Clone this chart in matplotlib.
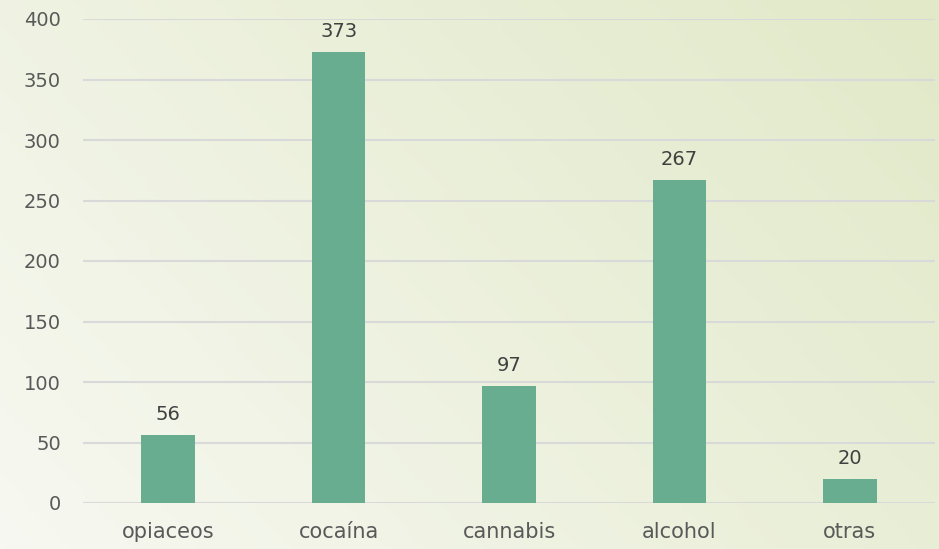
import matplotlib.pyplot as plt
import numpy as np

# datos
categorias = ["opiaceos", "cocaína", "cannabis", "alcohol", "otras"]
valores = [56, 373, 97, 267, 20]
yticks = [0, 50, 100, 150, 200, 250, 300, 350, 400]

plt.rcParams['font.family'] = ['DejaVu Sans']

fig = plt.figure(figsize=(9.39, 5.49), dpi=100)

# fondo degradado (abajo-izquierda claro, arriba-derecha verde)
bg = fig.add_axes([0, 0, 1, 1], zorder=-10)
nx, ny = 200, 120
xx, yy = np.meshgrid(np.linspace(0, 1, nx), np.linspace(0, 1, ny))
t = np.clip((0.65*xx + 0.35*yy), 0, 1)
c0 = np.array([247, 248, 241]) / 255.
c1 = np.array([225, 233, 200]) / 255.
img = c0[None, None, :]*(1-t[..., None]) + c1[None, None, :]*t[..., None]
bg.imshow(img, origin="lower", aspect="auto", extent=[0, 1, 0, 1])
bg.axis("off")

ax = fig.add_axes([83/939, 46/549, 852/939, 484/549])
ax.patch.set_alpha(0)
x = np.arange(len(categorias))
ax.bar(x, valores, width=0.315, color="#69ad91", zorder=3)
for xi, v in zip(x, valores):
    ax.text(xi, v + 9, str(v), ha="center", va="bottom", fontsize=14, color="#404040")

ax.set_xlim(-0.5, len(categorias) - 0.5)
ax.set_ylim(0, 400)
ax.set_yticks(yticks)
ax.set_xticks(x)
ax.set_xticklabels(categorias)
ax.grid(axis="y", color="#d9d9d9", linewidth=1.5, zorder=0)
for s in ax.spines.values():
    s.set_visible(False)
ax.tick_params(length=0, labelsize=14, labelcolor="#595959")
ax.tick_params(axis="y", pad=16)
ax.tick_params(axis="x", pad=14, labelsize=15)

fig.savefig("out.png", dpi=100)
